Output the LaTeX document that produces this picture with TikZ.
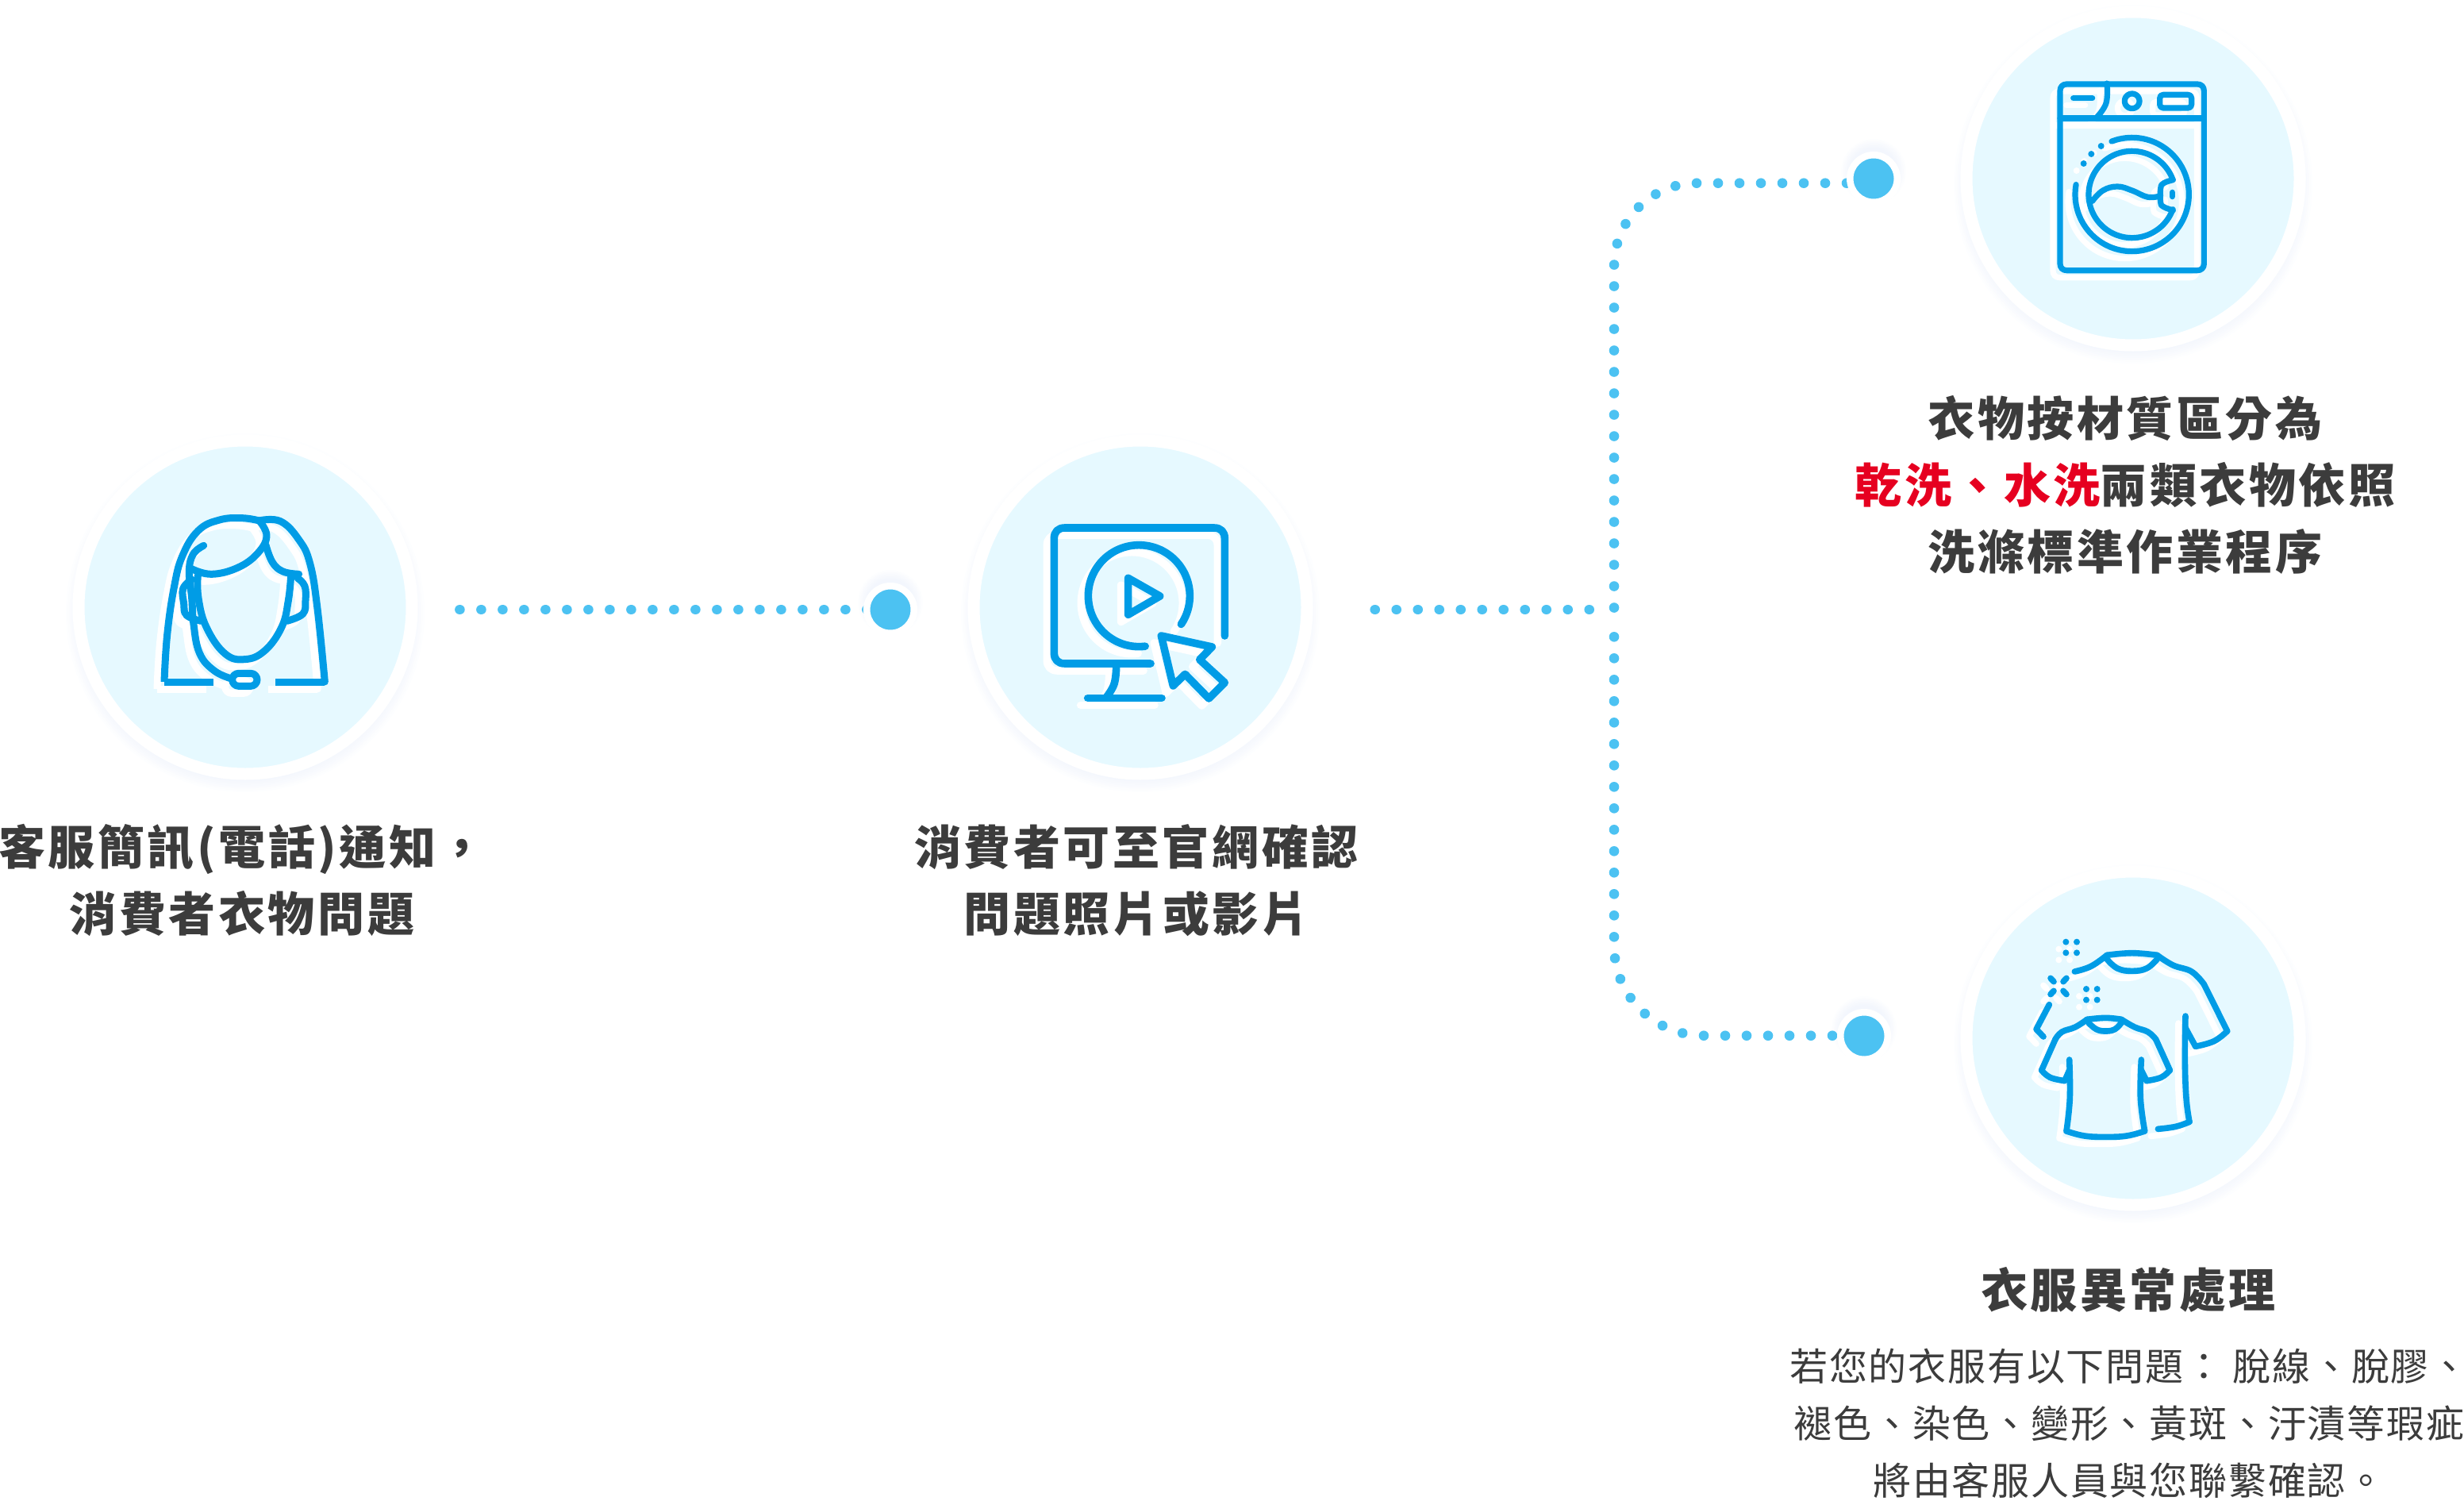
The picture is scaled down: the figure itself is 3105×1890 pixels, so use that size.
\documentclass[tikz,border=0pt]{standalone}
\usepackage{fontspec}
\newfontfamily\headfont[LetterSpace=6]{Noto Sans CJK TC}
\newfontfamily\bodyfont[LetterSpace=3.7]{Noto Sans CJK TC}
\definecolor{bubble}{HTML}{E6F9FF}
\definecolor{iconblue}{HTML}{009CE6}
\definecolor{dotblue}{HTML}{4CC2F2}
\definecolor{textgray}{HTML}{3C3C3C}
\definecolor{accentred}{HTML}{E60020}
\definecolor{halocol}{HTML}{DCE6F8}
\tikzset{
  bubblenode/.style={circle,inner sep=0pt,outer sep=0pt,minimum size=420pt,fill=bubble,draw=white,line width=15pt},
  bigdot/.style={circle,inner sep=0pt,outer sep=0pt,minimum size=59.5pt,fill=dotblue,draw=white,line width=8.5pt},
  dotline/.style={draw=dotblue,line width=12.6pt,line cap=round,dash pattern=on 0.01pt off 26.99pt},
  headtext/.style={inner sep=0pt,outer sep=0pt,align=center,text=textgray,font=\headfont\bfseries\fontsize{59}{84}\selectfont},
  bodytext/.style={inner sep=0pt,outer sep=0pt,align=center,text=textgray,font=\bodyfont\fontsize{48}{72}\selectfont},
  ic/.style={line cap=round,line join=round},
  icsharp/.style={line cap=butt,line join=miter},
  sm/.style={smooth,tension=.7}
}
% soft glow: #1,#2 centre, #3 outer radius, #4 inner radius
\newcommand\softglow[4]{%
  \foreach \k in {0,...,7}{%
    \fill[halocol,opacity=.05] (#1,#2) circle ({#4+(#3-#4)*(1-\k/7)*1pt});
  }}
% #1,#2 origin of zoomed tracing, #3 line width, #4 drawing
\newcommand\iconpair[4]{%
  \begin{scope}[shift={(#1-9,#2+9)},x=.33333pt,y=-.33333pt,line width=#3,color=white]#4\end{scope}
  \begin{scope}[shift={(#1,#2)},x=.33333pt,y=-.33333pt,line width=#3,color=iconblue]#4\end{scope}}
\newcommand\personicon{%
  \draw[icsharp] plot[sm] coordinates {(441,957)(452,780)(478,600)(510,480)(570,385)(650,345)(735,338)(800,348)} ;
  \draw[icsharp] (627,957) -- (441,957);
  \draw[ic] plot[sm] coordinates {(800,348)(880,350)(950,420)(992,510)(1020,680)(1048,957)};
  \draw[icsharp] (862,957) -- (1048,957);
  \draw[ic] plot[sm] coordinates {(545,530)(620,550)(720,525)(795,470)(828,405)(800,348)};
  \draw[ic] plot[sm] coordinates {(590,442)(550,475)(535,540)(545,640)(552,740)(575,850)(630,915)(695,945)};
  \draw[ic] plot[sm] coordinates {(568,555)(570,640)(600,750)(670,850)(745,872)(820,840)(885,750)(910,650)(920,555)};
  \draw[ic] plot[sm] coordinates {(825,440)(850,505)(890,540)(950,550)};
  \draw[ic] plot[sm] coordinates {(945,565)(972,595)(975,650)(965,700)(905,727)};
  \draw[ic] plot[sm] coordinates {(545,570)(512,605)(515,660)(525,705)(580,727)};
  \draw[ic,rounded corners=8pt] (698,925) rectangle (792,973);
}
\newcommand\monitoricon{%
  \draw[ic] (750,888) -- (425,888) .. controls (400,888) and (385,873) .. (385,848) -- (385,415) .. controls (385,390) and (400,375) .. (425,375) -- (990,375) .. controls (1015,375) and (1030,390) .. (1030,415) -- (1030,783);
  \draw[ic] plot[sm] coordinates {(620,905)(612,965)(585,1012)};
  \draw[ic] (512,1018) -- (792,1018);
  \draw[ic] plot[domain=-394:-83,samples=70,smooth] ({706+192*cos(\x)},{632-192*sin(\x)});
  \draw[ic] (665,565) -- (785,633) -- (665,703) -- cycle;
  \draw[ic] (790,783) -- (982,825) -- (935,873) -- (1030,960) -- (970,1020) -- (880,928) -- (835,972) -- cycle;
}
\newcommand\washericon{%
  \draw[ic] (433,318) -- (927,318) .. controls (942,318) and (952,328) .. (952,343) -- (952,997) .. controls (952,1012) and (942,1022) .. (927,1022) -- (433,1022) .. controls (418,1022) and (408,1012) .. (408,997) -- (408,343) .. controls (408,328) and (418,318) .. (433,318) -- cycle;
  \draw[ic] (408,447) -- (952,447);
  \draw[ic] plot[sm] coordinates {(585,315)(582,390)(545,445)};
  \draw[ic] (458,371) -- (530,371);
  \draw[ic] plot[domain=0:360,samples=30,smooth] ({680+28*cos(\x)},{382+28*sin(\x)});
  \draw[ic] (798,358) -- (892,358) .. controls (900,358) and (905,363) .. (905,371) -- (905,395) .. controls (905,403) and (900,408) .. (892,408) -- (798,408) .. controls (790,408) and (785,403) .. (785,395) -- (785,371) .. controls (785,363) and (790,358) .. (798,358) -- cycle;
  \draw[ic] plot[domain=-190:111,samples=60,smooth] ({680+215*cos(\x)},{735-215*sin(\x)});
  \fill (497,618) circle[radius=4pt];
  \fill (526,582) circle[radius=4pt];
  \fill (563,552) circle[radius=4pt];
  \draw[ic] plot[domain=20:340,samples=60,smooth] ({680+164*cos(\x)},{735-164*sin(\x)});
  \draw[ic] plot[sm] coordinates {(835,680)(800,692)(788,712)(788,765)(800,782)(835,795)};
  \draw[ic] plot[sm] coordinates {(530,760)(570,720)(625,705)(680,720)(740,745)(788,740)};
  \draw[ic] (832,727) -- (832,743);
}
\newcommand\shirticon{%
  \draw[ic] plot[sm] coordinates {(463,372)(525,352)(585,310)};
  \draw[ic] plot[sm] coordinates {(585,310)(680,302)(775,310)};
  \draw[ic] plot[sm] coordinates {(775,310)(835,348)(905,372)(952,420)};
  \draw[ic] (952,420) -- (1040,597);
  \draw[ic] plot[sm] coordinates {(1040,597)(990,635)(920,655)};
  \draw[ic] (920,655) -- (882,585);
  \draw[ic] plot[sm] coordinates {(585,325)(625,360)(680,370)(735,360)(775,325)};
  \draw[ic] plot[sm] coordinates {(882,540)(880,700)(885,850)(897,940)};
  \draw[ic] plot[sm] coordinates {(897,940)(845,958)(778,967)};
  \draw[ic] (367,497) -- (318,590) -- (345,618);
  \draw[ic] plot[sm] coordinates {(510,553)(580,547)(640,553)};
  \draw[ic] plot[sm] coordinates {(640,553)(690,582)(740,600)(770,628)};
  \draw[ic] (770,628) -- (823,745);
  \draw[ic] plot[sm] coordinates {(823,745)(790,772)(735,785)};
  \draw[ic] (735,785) -- (715,745);
  \draw[ic] plot[sm] coordinates {(510,553)(465,582)(415,600)(390,628)};
  \draw[ic] (390,628) -- (338,745);
  \draw[ic] plot[sm] coordinates {(338,745)(370,772)(425,785)};
  \draw[ic] (425,785) -- (443,745);
  \draw[ic] plot[sm] coordinates {(515,565)(545,590)(580,597)(615,590)(640,565)};
  \draw[ic] plot[sm] coordinates {(443,705)(445,850)(432,975)};
  \draw[ic] plot[sm] coordinates {(432,975)(500,993)(580,997)(660,993)(728,975)};
  \draw[ic] plot[sm] coordinates {(715,705)(712,850)(728,975)};
  \foreach \px/\py in {430/260,471/260,430/301,471/301,507/438,548/438,507/479,548/479}{\fill (\px,\py) circle[radius=4pt];}
  \draw[ic] (372,397) -- (384,410);
  \draw[ic] (432,397) -- (420,410);
  \draw[ic] (372,458) -- (384,445);
  \draw[ic] (432,458) -- (420,445);
}
\begin{document}
\begin{tikzpicture}[x=1pt,y=-1pt]
\useasboundingbox (0,0) rectangle (3105,1890);
% glows
\softglow{309}{772}{226}{210}
\softglow{1437}{772}{226}{210}
\softglow{2688}{232}{226}{210}
\softglow{2688}{1315}{226}{210}
\softglow{1122}{759}{41}{30}
\softglow{2361}{216}{41}{30}
\softglow{2349}{1296}{41}{30}
% connector ends
\coordinate (startA) at (579.4,768);
\coordinate (startB) at (1732.7,768);
\coordinate (joint) at (2002.7,768);
\coordinate (topEnd) at (2034,772);
\coordinate (lowEnd) at (2034,799);
\coordinate (topFree) at (2327,230.7);
\coordinate (lowFree) at (2309,1304.7);
% connectors
\draw[dotline] (startA) -- (1122,768);
\draw[dotline] (startB) -- (joint);
\draw[dotline] (topFree) -- (2138.5,230.7) .. controls (2080.8,230.7) and (2034,277.5) .. (2034,335) -- (topEnd);
\draw[dotline] (lowFree) -- (2147,1304.7) .. controls (2084.6,1304.7) and (2034,1254.4) .. (2034,1192) -- (lowEnd);
% round nodes
\node[bubblenode] (agent) at (309,765) {};
\node[bubblenode] (screen) at (1437,765) {};
\node[bubblenode] (washer) at (2688,225) {};
\node[bubblenode] (shirts) at (2688,1308) {};
\node[bigdot] (dotA) at (1122,768) {};
\node[bigdot] (dotB) at (2361,225) {};
\node[bigdot] (dotC) at (2349,1305) {};
% icons
\iconpair{60}{540}{9pt}{\personicon}
\iconpair{1200}{540}{9.6pt}{\monitoricon}
\iconpair{2460}{0}{7.2pt}{\washericon}
\iconpair{2460}{1100}{7.6pt}{\shirticon}
% labels
\node[headtext] (lblA) at (305,1109) {客服簡訊(電話)通知，\\消費者衣物問題};
\node[headtext] (lblB) at (1432,1109) {消費者可至官網確認\\問題照片或影片};
\node[headtext] (lblC) at (2678,611) {衣物按材質區分為\\{\color{accentred}乾洗、水洗}兩類衣物依照\\洗滌標準作業程序};
\node[headtext] (lblD) at (2682,1625) {衣服異常處理};
\node[bodytext] (lblE) at (2683,1793) {若您的衣服有以下問題： 脫線、脫膠、\\褪色、染色、變形、黃斑、汙漬等瑕疵\\將由客服人員與您聯繫確認。};
\end{tikzpicture}
\end{document}
